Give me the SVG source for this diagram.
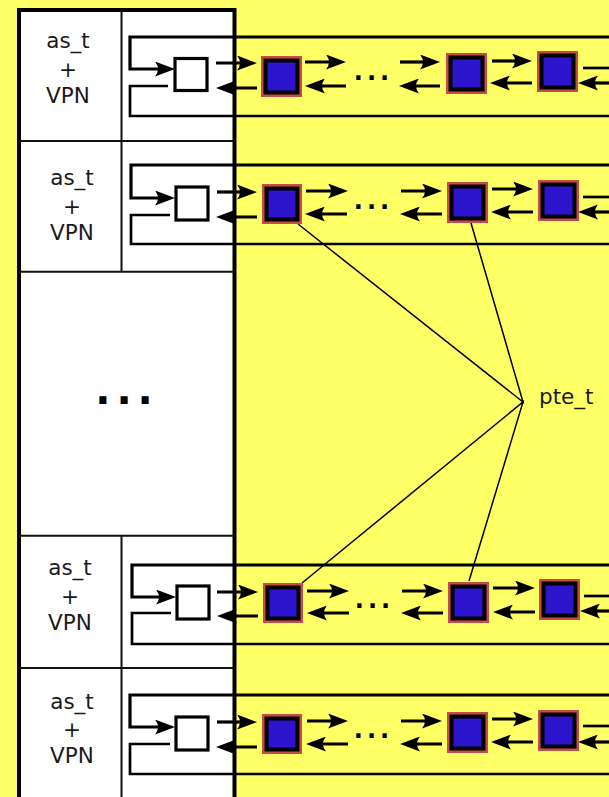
<svg xmlns="http://www.w3.org/2000/svg" width="609" height="797" viewBox="0 0 609 797">
<defs>
<style>
.bg{fill:#ffff66}
.tbl{fill:#ffffff;stroke:#000;stroke-width:4}
.div{stroke:#111;stroke-width:2;fill:none}
.lbl{font-family:"DejaVu Sans",sans-serif;font-size:21.5px;fill:#1a1a1a;text-anchor:middle}
.dots{font-family:"DejaVu Sans",sans-serif;font-weight:bold;fill:#000;text-anchor:middle}
.sq{fill:#fff;stroke:#000;stroke-width:3.2}
.pR{fill:#c84b4b}
.pK{fill:#000}
.pB{fill:#2d14cd}
.ln{fill:none;stroke:#000;stroke-width:2.7}
.ar{fill:none;stroke:#000;stroke-width:3.2;marker-end:url(#ah)}
.pte{fill:none;stroke:#000;stroke-width:1.5}
</style>
<marker id="ah" markerUnits="userSpaceOnUse" viewBox="0 0 20 15" refX="12" refY="7.5" markerWidth="20" markerHeight="15" orient="auto">
<path d="M0,0 L20,7.5 L0,15 Q6,7.5 0,0 Z" fill="#000"/>
</marker>
</defs>
<rect class="bg" x="0" y="0" width="609" height="797"/>

<g id="table">
<rect class="tbl" x="19" y="10" width="215.5" height="800"/>
<path class="div" d="M19,141 H234.5 M19,271.7 H234.5 M19,535.7 H234.5 M19,668 H234.5 M121.5,10 V271.7 M121.5,535.7 V797"/>
</g>

<g id="row1"><text class="lbl" x="68" y="48">as_t</text><text class="lbl" x="68" y="77">+</text><text class="lbl" x="68" y="102.5">VPN</text></g>
<g id="row2"><text class="lbl" x="72" y="185">as_t</text><text class="lbl" x="72" y="213.5">+</text><text class="lbl" x="72" y="239.5">VPN</text></g>
<g id="rowdots"><text class="dots" x="127" y="404" font-size="40" letter-spacing="6">...</text></g>
<g id="row4"><text class="lbl" x="70" y="575">as_t</text><text class="lbl" x="70" y="604">+</text><text class="lbl" x="70" y="630">VPN</text></g>
<g id="row5"><text class="lbl" x="72" y="709">as_t</text><text class="lbl" x="72" y="737">+</text><text class="lbl" x="72" y="763">VPN</text></g>

<g id="connectors">
<!-- band 1 -->
<path class="ar" d="M609,37 H130 V69 H167"/>
<path class="ln" d="M168,86 H130 V116 H609"/>
<path class="ar" d="M216,63 H249"/>
<path class="ar" d="M257,88 H224"/>
<path class="ar" d="M305,62 H338"/>
<path class="ar" d="M346,86 H313"/>
<path class="ar" d="M400,62 H432"/>
<path class="ar" d="M440,86 H407"/>
<path class="ar" d="M492,61 H524"/>
<path class="ar" d="M532,83 H498"/>
<path class="ln" d="M583,68 H612"/>
<path class="ar" d="M612,83 H586"/>
<!-- band 2 -->
<path class="ar" d="M609,165 H131 V198 H167"/>
<path class="ln" d="M170,215 H131 V244 H609"/>
<path class="ar" d="M217,192 H249"/>
<path class="ar" d="M257,217 H224"/>
<path class="ar" d="M306,191 H340"/>
<path class="ar" d="M347,214 H313"/>
<path class="ar" d="M401,191 H434"/>
<path class="ar" d="M442,214 H408"/>
<path class="ar" d="M492,189 H525"/>
<path class="ar" d="M533,212 H499"/>
<path class="ln" d="M583,197 H612"/>
<path class="ar" d="M612,212 H586"/>
<!-- band 3 -->
<path class="ar" d="M609,565 H132 V597 H168"/>
<path class="ln" d="M171,613 H132 V644 H609"/>
<path class="ar" d="M217,592 H250"/>
<path class="ar" d="M258,616 H225"/>
<path class="ar" d="M307,591 H341"/>
<path class="ar" d="M349,613 H315"/>
<path class="ar" d="M402,591 H435"/>
<path class="ar" d="M443,613 H409"/>
<path class="ar" d="M493,588 H527"/>
<path class="ar" d="M535,612 H501"/>
<path class="ln" d="M584,596 H612"/>
<path class="ar" d="M612,611 H588"/>
<!-- band 4 -->
<path class="ar" d="M609,695 H130 V727 H167"/>
<path class="ln" d="M170,744 H130 V774 H609"/>
<path class="ar" d="M217,722 H249"/>
<path class="ar" d="M257,747 H224"/>
<path class="ar" d="M307,721 H340"/>
<path class="ar" d="M348,744 H314"/>
<path class="ar" d="M401,721 H434"/>
<path class="ar" d="M442,744 H408"/>
<path class="ar" d="M492,719 H525"/>
<path class="ar" d="M533,742 H499"/>
<path class="ln" d="M583,726 H612"/>
<path class="ar" d="M612,742 H586"/>
<!-- pte_t pointers -->
<path class="pte" d="M298,224 L523,402 L471,223"/>
<path class="pte" d="M302,583 L523,402 L469,581"/>
</g>

<g id="band1-nodes">
<rect class="sq" x="175" y="58.5" width="32" height="32"/>
<text class="dots" x="373.5" y="80" font-size="24" letter-spacing="4">...</text>
<g id="b1p1"><rect class="pR" x="261" y="56" width="41" height="41"/><rect class="pK" x="263.5" y="58.5" width="36" height="36"/><rect class="pB" x="267.5" y="62.5" width="28" height="28"/></g>
<g id="b1p2"><rect class="pR" x="446" y="53" width="41" height="41"/><rect class="pK" x="448.5" y="55.5" width="36" height="36"/><rect class="pB" x="452.5" y="59.5" width="28" height="28"/></g>
<g id="b1p3"><rect class="pR" x="537" y="51" width="41" height="41"/><rect class="pK" x="539.5" y="53.5" width="36" height="36"/><rect class="pB" x="543.5" y="57.5" width="28" height="28"/></g>
</g>

<g id="band2-nodes">
<rect class="sq" x="176" y="187" width="32" height="33"/>
<text class="dots" x="373.5" y="209" font-size="24" letter-spacing="4">...</text>
<g id="b2p1"><rect class="pR" x="262" y="184" width="40" height="40"/><rect class="pK" x="264.5" y="186.5" width="35" height="35"/><rect class="pB" x="268.5" y="190.5" width="27" height="27"/></g>
<g id="b2p2"><rect class="pR" x="447" y="182" width="41" height="41"/><rect class="pK" x="449.5" y="184.5" width="36" height="36"/><rect class="pB" x="453.5" y="188.5" width="28" height="28"/></g>
<g id="b2p3"><rect class="pR" x="538" y="180" width="41" height="41"/><rect class="pK" x="540.5" y="182.5" width="36" height="36"/><rect class="pB" x="544.5" y="186.5" width="28" height="28"/></g>
</g>

<g id="band3-nodes">
<rect class="sq" x="177" y="586" width="32" height="33"/>
<text class="dots" x="374.5" y="608" font-size="24" letter-spacing="4">...</text>
<g id="b3p1"><rect class="pR" x="263" y="583" width="40" height="40"/><rect class="pK" x="265.5" y="585.5" width="35" height="35"/><rect class="pB" x="269.5" y="589.5" width="27" height="27"/></g>
<g id="b3p2"><rect class="pR" x="448" y="582" width="41" height="41"/><rect class="pK" x="450.5" y="584.5" width="36" height="36"/><rect class="pB" x="454.5" y="588.5" width="28" height="28"/></g>
<g id="b3p3"><rect class="pR" x="539" y="579" width="41" height="41"/><rect class="pK" x="541.5" y="581.5" width="36" height="36"/><rect class="pB" x="545.5" y="585.5" width="28" height="28"/></g>
</g>

<g id="band4-nodes">
<rect class="sq" x="176" y="717" width="32" height="33"/>
<text class="dots" x="373.5" y="738" font-size="24" letter-spacing="4">...</text>
<g id="b4p1"><rect class="pR" x="262" y="714" width="40" height="40"/><rect class="pK" x="264.5" y="716.5" width="35" height="35"/><rect class="pB" x="268.5" y="720.5" width="27" height="27"/></g>
<g id="b4p2"><rect class="pR" x="447" y="712" width="41" height="41"/><rect class="pK" x="449.5" y="714.5" width="36" height="36"/><rect class="pB" x="453.5" y="718.5" width="28" height="28"/></g>
<g id="b4p3"><rect class="pR" x="538" y="710" width="41" height="41"/><rect class="pK" x="540.5" y="712.5" width="36" height="36"/><rect class="pB" x="544.5" y="716.5" width="28" height="28"/></g>
</g>

<g id="pte_t"><text x="539" y="404" style="font-family:'DejaVu Sans',sans-serif;font-size:21.5px;fill:#1a1a1a">pte_t</text></g>
</svg>
